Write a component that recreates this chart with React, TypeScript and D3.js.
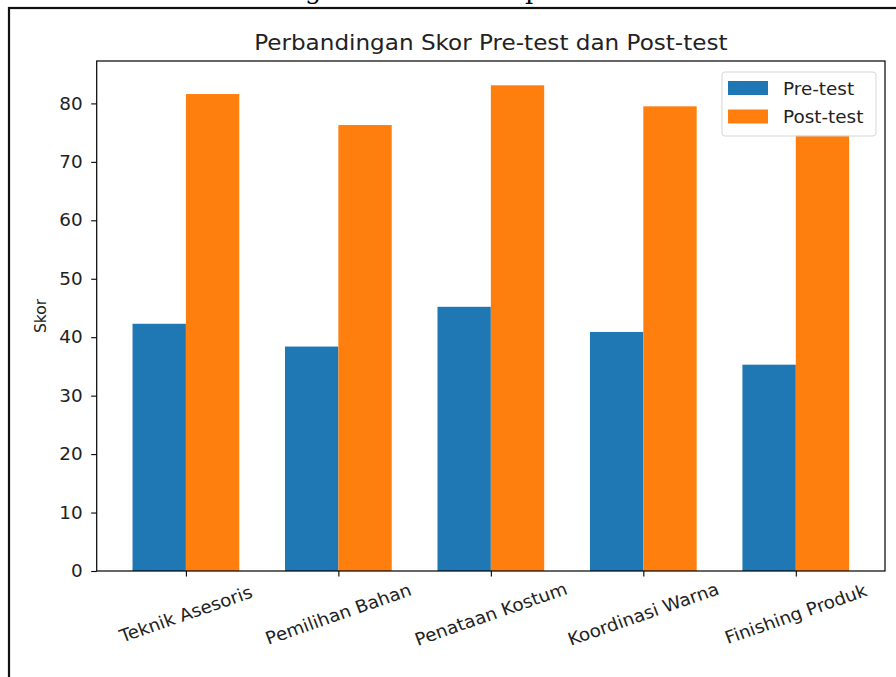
import * as d3 from 'd3';
import { useEffect, useRef } from 'react';

const categories = ['Teknik Asesoris', 'Pemilihan Bahan', 'Penataan Kostum', 'Koordinasi Warna', 'Finishing Produk'];
const preTest = [42.3, 38.4, 45.2, 40.9, 35.3];
const postTest = [81.6, 76.3, 83.1, 79.5, 74.6];
const seriesNames = ['Pre-test', 'Post-test'];
const yTicks = [0, 10, 20, 30, 40, 50, 60, 70, 80];

export default function App() {
    const ref = useRef<HTMLDivElement>(null);

    useEffect(() => {
        const width = 896;
        const height = 677;
        const font = 'DejaVu Sans, sans-serif';
        const colors = ['#1f77b4', '#ff7f0e'];
        const barW = 0.35;
        const sx = 1.05; // the reference is slightly stretched sideways
        const fs = 17.5;
        const plot = { left: 96.7, right: 885, top: 61, bottom: 571 };

        ref.current!.innerHTML = '';
        const svg = d3
            .select(ref.current)
            .append('svg')
            .attr('width', width)
            .attr('height', height)
            .style('display', 'block');

        svg.append('rect').attr('width', width).attr('height', height).attr('fill', 'white');

        // bits of the cut-off caption above the frame
        svg.append('text').attr('x', 305).attr('y', -1).attr('font-family', 'DejaVu Serif, serif')
            .attr('font-size', 26).text('g');
        svg.append('text').attr('x', 525).attr('y', -1).attr('font-family', 'DejaVu Serif, serif')
            .attr('font-size', 26).text('p');

        // outer frame
        svg.append('rect')
            .attr('x', 9).attr('y', 8).attr('width', 1000).attr('height', 1000)
            .attr('fill', 'none').attr('stroke', '#111').attr('stroke-width', 2.2);

        const n = categories.length;
        const x = d3.scaleLinear().domain([-barW - 0.235, n - 1 + barW + 0.235]).range([plot.left, plot.right]);
        const yMax = d3.max([...preTest, ...postTest])! * 1.05;
        const y = d3.scaleLinear().domain([0, yMax]).range([plot.bottom, plot.top]);

        const series = [preTest, postTest];
        series.forEach((vals, si) => {
            svg.append('g')
                .selectAll('rect')
                .data(vals)
                .join('rect')
                .attr('x', (d, i) => x(i + (si === 0 ? -barW : 0)))
                .attr('width', x(barW) - x(0))
                .attr('y', d => y(d))
                .attr('height', d => y(0) - y(d))
                .attr('fill', colors[si]);
        });

        // y axis
        const yAxis = d3.axisLeft(y).tickValues(yTicks).tickSize(5.5).tickFormat(() => '');
        const gy = svg.append('g').attr('transform', `translate(${plot.left},0)`).call(yAxis);
        gy.select('.domain').remove();
        gy.selectAll('line').attr('stroke', '#000').attr('stroke-width', 1.1);

        svg.append('g')
            .selectAll('text')
            .data(yTicks)
            .join('text')
            .attr('transform', d => `translate(${plot.left - 14},${y(d)}) scale(${sx},1)`)
            .attr('text-anchor', 'end')
            .attr('dy', '0.35em')
            .attr('font-family', font)
            .attr('font-size', fs)
            .attr('fill', '#222')
            .text(d => d);

        // x axis
        const xAxis = d3.axisBottom(x).tickValues(d3.range(n)).tickSize(5.5).tickFormat(() => '');
        const gx = svg.append('g').attr('transform', `translate(0,${plot.bottom})`).call(xAxis);
        gx.select('.domain').remove();
        gx.selectAll('line').attr('stroke', '#000').attr('stroke-width', 1.1);

        svg.append('g')
            .selectAll('text')
            .data(categories)
            .join('text')
            .attr('transform', (d, i) => `translate(${x(i)},${plot.bottom + 43}) scale(${sx},1) rotate(-20)`)
            .attr('text-anchor', 'middle')
            .attr('dy', '0.35em')
            .attr('font-family', font)
            .attr('font-size', fs)
            .attr('fill', '#222')
            .text(d => d);

        // spines
        svg.append('rect')
            .attr('x', plot.left).attr('y', plot.top)
            .attr('width', plot.right - plot.left).attr('height', plot.bottom - plot.top)
            .attr('fill', 'none').attr('stroke', '#000').attr('stroke-width', 1.2);

        // title and label
        svg.append('text')
            .attr('transform', `translate(${(plot.left + plot.right) / 2},50) scale(${sx},1)`)
            .attr('text-anchor', 'middle')
            .attr('font-family', font).attr('font-size', 22).attr('fill', '#222')
            .text('Perbandingan Skor Pre-test dan Post-test');

        svg.append('text')
            .attr('transform', `translate(46,${(plot.top + plot.bottom) / 2}) scale(${sx},1) rotate(-90)`)
            .attr('text-anchor', 'middle')
            .attr('font-family', font).attr('font-size', 15.5).attr('fill', '#222')
            .text('Skor');

        // legend
        const lg = svg.append('g').attr('transform', 'translate(722,72)');
        lg.append('rect')
            .attr('width', 154).attr('height', 64).attr('rx', 3)
            .attr('fill', 'white').attr('fill-opacity', 0.8)
            .attr('stroke', '#d6d6d6').attr('stroke-width', 1);
        seriesNames.forEach((name, i) => {
            lg.append('rect')
                .attr('x', 6).attr('y', 9 + i * 28.5).attr('width', 40).attr('height', 14)
                .attr('fill', colors[i]);
            lg.append('text')
                .attr('transform', `translate(61,${22.5 + i * 28.5}) scale(${sx},1)`)
                .attr('font-family', font).attr('font-size', fs).attr('fill', '#222')
                .text(name);
        });
    }, []);

    return <div ref={ref} style={{ position: 'absolute', left: 0, top: 0, width: 896, height: 677, overflow: 'hidden' }}></div>;
}
